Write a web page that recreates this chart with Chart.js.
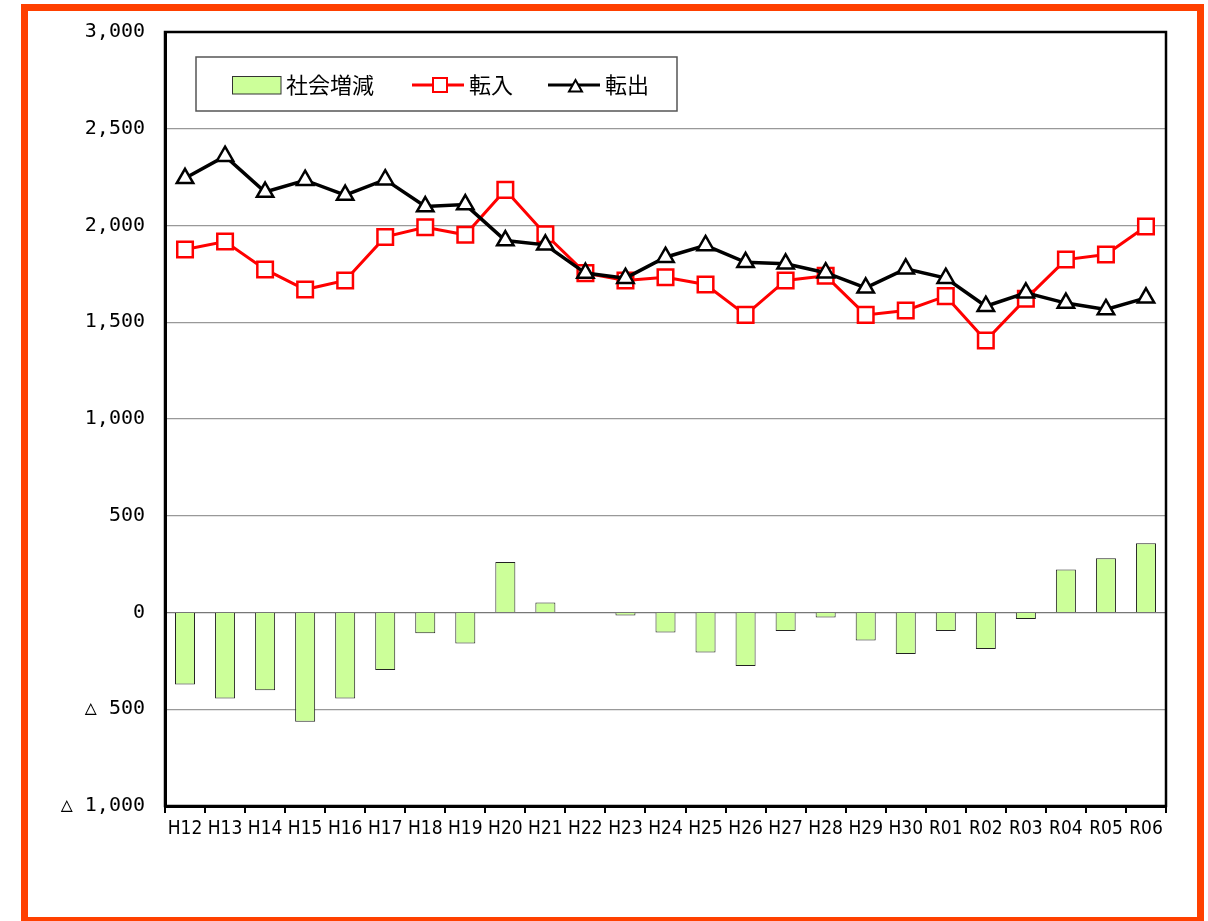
<!DOCTYPE html>
<html>
<head>
<meta charset="utf-8">
<script src="https://cdn.jsdelivr.net/npm/chart.js@4.4.1/dist/chart.umd.min.js"></script>
<style>
  html, body { margin: 0; padding: 0; background: #fff; }
  body { width: 1208px; height: 921px; position: relative; overflow: hidden; }
  #frame { position: absolute; left: 21px; top: 4px; width: 1169px; height: 906px; border: 7px solid #FF4000; box-sizing: content-box; }
  #wrap { position: absolute; left: 0; top: 0; width: 1208px; height: 921px; }
</style>
</head>
<body>
<div id="frame"></div>
<div id="wrap"><canvas id="c" width="1208" height="921"></canvas></div>
<script>
const categories = ['H12','H13','H14','H15','H16','H17','H18','H19','H20','H21','H22','H23','H24','H25','H26','H27','H28','H29','H30','R01','R02','R03','R04','R05','R06'];
const socialChange = [-372,-444,-402,-565,-444,-297,-107,-160,261,52,-3,-16,-103,-207,-277,-95,-26,-145,-215,-95,-188,-33,222,281,358];
const moveIn  = [1876,1917,1773,1669,1716,1941,1991,1952,2184,1955,1754,1716,1733,1695,1538,1716,1740,1538,1561,1635,1406,1621,1824,1850,1995];
const moveOut = [2244,2358,2173,2234,2157,2237,2098,2108,1922,1900,1754,1728,1836,1897,1810,1802,1756,1678,1776,1728,1583,1652,1599,1566,1626];
const yTicks = { min: -1000, max: 3000, step: 500 };
const seriesNames = ['社会増減', '転入', '転出'];

function fmt(v) {
  const a = Math.abs(v).toLocaleString('en-US');
  return v < 0 ? '△ ' + a : a;
}

const frameAndLegend = {
  id: 'frameAndLegend',
  afterDraw(chart) {
    const ctx = chart.ctx;
    const a = chart.chartArea;
    ctx.save();
    // plot frame
    ctx.strokeStyle = '#000';
    ctx.lineWidth = 2.5;
    ctx.strokeRect(a.left, a.top, a.right - a.left, a.bottom - a.top);
    // legend box
    const lx = 196, ly = 57, lw = 481, lh = 54;
    ctx.fillStyle = '#fff';
    ctx.fillRect(lx, ly, lw, lh);
    ctx.strokeStyle = '#555';
    ctx.lineWidth = 1.5;
    ctx.strokeRect(lx, ly, lw, lh);
    const cy = 85;
    ctx.font = '22px "Noto Sans CJK JP", sans-serif';
    ctx.textBaseline = 'middle';
    ctx.textAlign = 'left';
    const ds = chart.data.datasets;
    // bar item
    ctx.fillStyle = ds[0].backgroundColor;
    ctx.fillRect(232, 76, 49, 18);
    ctx.strokeStyle = '#333';
    ctx.lineWidth = 1;
    ctx.strokeRect(232.5, 76.5, 48.5, 17.5);
    ctx.fillStyle = '#000';
    ctx.fillText(ds[0].label, 286, cy);
    // red line item
    ctx.strokeStyle = ds[1].borderColor;
    ctx.lineWidth = 3;
    ctx.beginPath(); ctx.moveTo(412, cy); ctx.lineTo(464, cy); ctx.stroke();
    ctx.fillStyle = '#fff';
    ctx.fillRect(433, 78, 14, 14);
    ctx.lineWidth = 2;
    ctx.strokeRect(433, 78, 14, 14);
    ctx.fillStyle = '#000';
    ctx.fillText(ds[1].label, 469, cy);
    // black line item
    ctx.strokeStyle = ds[2].borderColor;
    ctx.lineWidth = 3;
    ctx.beginPath(); ctx.moveTo(548, cy); ctx.lineTo(600, cy); ctx.stroke();
    ctx.fillStyle = '#fff';
    ctx.lineWidth = 2;
    ctx.beginPath(); ctx.moveTo(575.5, 80); ctx.lineTo(582, 91.5); ctx.lineTo(569, 91.5); ctx.closePath();
    ctx.fill(); ctx.stroke();
    ctx.fillStyle = '#000';
    ctx.fillText(ds[2].label, 605, cy);
    ctx.restore();
  }
};

new Chart(document.getElementById('c'), {
  data: {
    labels: categories,
    datasets: [
      {
        type: 'bar', label: seriesNames[0], data: socialChange,
        backgroundColor: '#CCFF99', borderColor: '#222', borderWidth: 1,
        categoryPercentage: 1, barPercentage: 0.5, order: 3
      },
      {
        type: 'line', label: seriesNames[1], data: moveIn,
        borderColor: '#FF0000', borderWidth: 3, pointStyle: 'rect', pointRadius: 11,
        pointBackgroundColor: '#fff', pointBorderColor: '#FF0000', pointBorderWidth: 2.5,
        tension: 0, order: 2
      },
      {
        type: 'line', label: seriesNames[2], data: moveOut,
        borderColor: '#000', borderWidth: 3.5, pointStyle: 'triangle', pointRadius: 9.5,
        pointBackgroundColor: '#fff', pointBorderColor: '#000', pointBorderWidth: 2.5,
        tension: 0, order: 1
      }
    ]
  },
  options: {
    responsive: false,
    animation: false,
    devicePixelRatio: 1,
    layout: { padding: { left: 0, top: 32, right: 42, bottom: 65 } },
    plugins: { legend: { display: false }, tooltip: { enabled: false } },
    scales: {
      x: {
        offset: true,
        grid: { offset: true, drawOnChartArea: false, tickLength: 7, color: '#000', lineWidth: 2 },
        border: { display: true, color: '#000', width: 3 },
        ticks: { color: '#000', padding: 5, maxRotation: 0, autoSkip: false,
          font: { family: '"Liberation Sans Narrow", "DejaVu Sans Condensed", sans-serif', size: 19 } },
        afterFit(scale) { scale.height = 50; }
      },
      y: {
        min: yTicks.min, max: yTicks.max,
        ticks: { stepSize: yTicks.step, color: '#000', padding: 20,
          font: { family: '"DejaVu Sans Mono", monospace', size: 20 },
          callback: (v) => fmt(v) },
        grid: { color: (c) => c.tick && c.tick.value === 0 ? '#777' : '#999', lineWidth: 1.2, drawTicks: false },
        border: { display: true, color: '#000', width: 3 },
        afterFit(scale) { scale.width = 165; }
      }
    }
  },
  plugins: [frameAndLegend]
});
</script>
</body>
</html>
